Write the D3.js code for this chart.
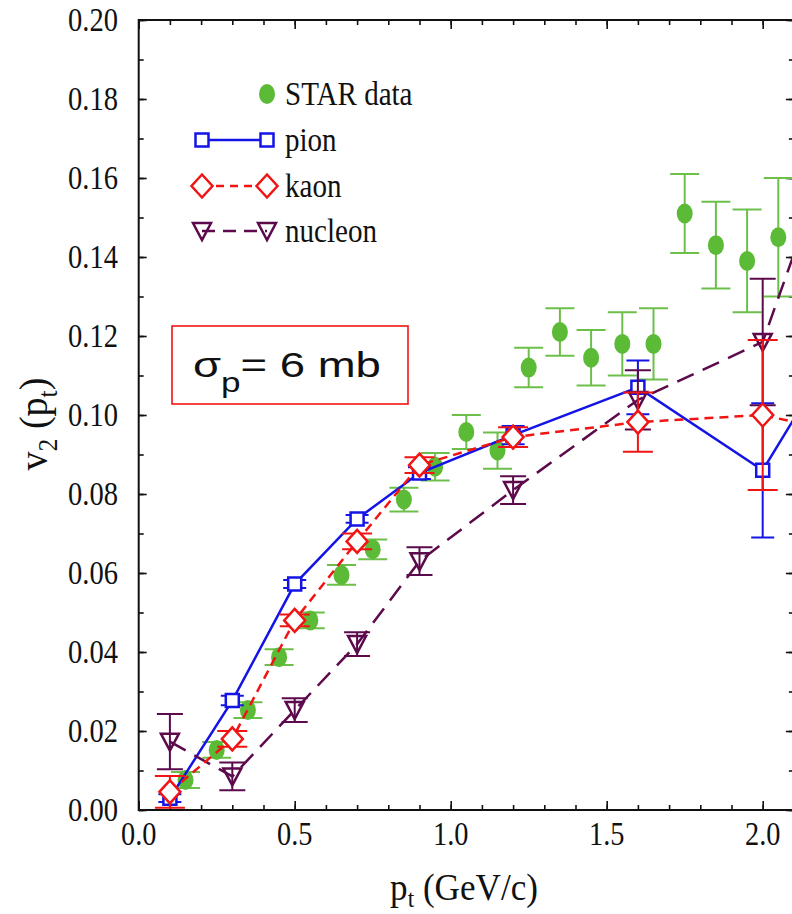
<!DOCTYPE html>
<html>
<head>
<meta charset="utf-8">
<script src="https://cdn.jsdelivr.net/npm/d3@7/dist/d3.min.js"></script>
<style>
body { margin: 0; background: #ffffff; }
</style>
</head>
<body>
<svg id="chart" width="792" height="914"></svg>
<script>

// STAR data
var aPtStar = [0.15, 0.25, 0.35, 0.45, 0.55, 0.65, 0.75, 0.85, 0.95, 1.05, 1.15, 1.25, 1.35, 1.45, 1.55, 1.65, 1.75, 1.85, 1.95, 2.05];
var aV2Star = [0.0076, 0.0152, 0.0253, 0.0387, 0.048, 0.0595, 0.066, 0.0786, 0.0869, 0.0957, 0.091, 0.112, 0.121, 0.1145, 0.118, 0.118, 0.151, 0.143, 0.139, 0.145];
var aErrStar = [0.002, 0.002, 0.002, 0.002, 0.002, 0.0025, 0.0025, 0.003, 0.0035, 0.0043, 0.0046, 0.005, 0.006, 0.007, 0.008, 0.009, 0.010, 0.011, 0.013, 0.015];

// transport model (last point lies past the right edge of the frame)
var aPtModel = [0.1, 0.3, 0.5, 0.7, 0.9, 1.2, 1.6, 2.0, 2.2];
var aV2Pion = [0.003, 0.0277, 0.0572, 0.0737, 0.0853, 0.0949, 0.107, 0.086, 0.112];
var aErrPion = [0.001, 0.0012, 0.001, 0.001, 0.0015, 0.0023, 0.0068, 0.017, null];
var aV2Kaon = [0.0046, 0.018, 0.048, 0.068, 0.0873, 0.0944, 0.0982, 0.100, 0.0965];
var aErrKaon = [0.004, 0.002, 0.0015, 0.002, 0.002, 0.0025, 0.0075, 0.019, null];
var aV2Nucleon = [0.0173, 0.0085, 0.0253, 0.042, 0.063, 0.081, 0.1038, 0.1185, 0.163];
var aErrNucleon = [0.007, 0.0035, 0.003, 0.003, 0.0035, 0.0035, 0.0075, 0.016, null];

// axes
var aTicksY = [0.00, 0.02, 0.04, 0.06, 0.08, 0.10, 0.12, 0.14, 0.16, 0.18, 0.20];
var aTicksX = [0.0, 0.5, 1.0, 1.5, 2.0];


var sSvg = d3.select('#chart');

var nLeft = 138.7;
var nTop = 20;
var nBottom = 810;
var nPxPerGeV = 312;
var fMaxX = 2.1;
var nRight = nLeft + fMaxX * nPxPerGeV;

var scaleX = d3.scaleLinear()
	.domain([0, fMaxX])
	.range([nLeft, nRight]);

var scaleY = d3.scaleLinear()
	.domain([0, 0.2])
	.range([nBottom, nTop]);

const strSerif = '"Liberation Serif", "Times New Roman", serif';
const strSans = '"Liberation Sans", Arial, sans-serif';

sSvg.append('rect')
	.attr('width', 792).attr('height', 914)
	.attr('fill', '#ffffff');

sSvg.append('defs').append('clipPath')
	.attr('id', 'plotclip')
	.append('rect')
		.attr('x', nLeft).attr('y', nTop)
		.attr('width', nRight - nLeft).attr('height', nBottom - nTop);

// ticks, all pointing inward
var aMinorX = d3.range(0, 22).map(function(i) { return i / 10; }).filter(function(v) { return v <= fMaxX + 1e-9; });
var aMinorY = d3.range(0, 21).map(function(i) { return i / 100; });

function TickAxis(axis, strTransform, aValues, nSize)
{
	var sAxis = sSvg.append('g')
		.attr('transform', strTransform)
		.call(axis.tickValues(aValues).tickSize(nSize).tickFormat(''));
	sAxis.select('.domain').remove();
	sAxis.selectAll('line').attr('stroke', '#111').attr('stroke-width', 1.6);
}

TickAxis(d3.axisBottom(scaleX), 'translate(0,' + nBottom + ')', aMinorX, -5);
TickAxis(d3.axisBottom(scaleX), 'translate(0,' + nBottom + ')', aTicksX, -9);
TickAxis(d3.axisTop(scaleX), 'translate(0,' + nTop + ')', aMinorX, -5);
TickAxis(d3.axisTop(scaleX), 'translate(0,' + nTop + ')', aTicksX, -9);
TickAxis(d3.axisLeft(scaleY), 'translate(' + nLeft + ',0)', aMinorY, -5);
TickAxis(d3.axisLeft(scaleY), 'translate(' + nLeft + ',0)', aTicksY, -8);
TickAxis(d3.axisRight(scaleY), 'translate(' + nRight + ',0)', aMinorY, -5);
TickAxis(d3.axisRight(scaleY), 'translate(' + nRight + ',0)', aTicksY, -8);

sSvg.append('rect')
	.attr('x', nLeft).attr('y', nTop)
	.attr('width', nRight - nLeft).attr('height', nBottom - nTop)
	.attr('fill', 'none')
	.attr('stroke', '#111')
	.attr('stroke-width', 2);

// tick labels
sSvg.selectAll('.label-y')
	.data(aTicksY)
	.enter()
	.append('text')
		.attr('class', 'label-y')
		.attr('transform', function(v) { return 'translate(118,' + (scaleY(v) + 11) + ') scale(0.84,1)'; })
		.attr('text-anchor', 'end')
		.style('font-family', strSerif)
		.style('font-size', '34px')
		.attr('fill', '#111')
		.text(function(v) { return d3.format('.2f')(v); });

sSvg.selectAll('.label-x')
	.data(aTicksX)
	.enter()
	.append('text')
		.attr('class', 'label-x')
		.attr('transform', function(v) { return 'translate(' + scaleX(v) + ',845) scale(0.86,1)'; })
		.attr('text-anchor', 'middle')
		.style('font-family', strSerif)
		.style('font-size', '33px')
		.attr('fill', '#111')
		.text(function(v) { return d3.format('.1f')(v); });

// axis titles
var sTitleX = sSvg.append('text')
	.attr('transform', 'translate(464,900) scale(0.9,1)')
	.attr('text-anchor', 'middle')
	.style('font-family', strSerif)
	.style('font-size', '39px')
	.attr('fill', '#111');
sTitleX.append('tspan').text('p');
sTitleX.append('tspan').attr('dy', 7).style('font-size', '26px').text('t');
sTitleX.append('tspan').attr('dy', -7).text(' (GeV/c)');

var sTitleY = sSvg.append('text')
	.attr('transform', 'translate(47,424) rotate(-90) scale(0.95,1)')
	.attr('text-anchor', 'middle')
	.style('font-family', strSerif)
	.style('font-size', '40px')
	.attr('fill', '#111');
sTitleY.append('tspan').text('v');
sTitleY.append('tspan').attr('dy', 10).style('font-size', '27px').text('2');
sTitleY.append('tspan').attr('dy', -10).text(' (p');
sTitleY.append('tspan').attr('dy', 10).style('font-size', '27px').text('t');
sTitleY.append('tspan').attr('dy', -10).text(')');

// marker shapes
function PathSquare(x, y)
{
	var h = 6.5;
	return 'M' + (x - h) + ',' + (y - h) + 'h' + (2 * h) + 'v' + (2 * h) + 'h' + (-2 * h) + 'Z';
}
function PathDiamond(x, y)
{
	var w = 10.5, h = 11.5;
	return 'M' + x + ',' + (y - h) + 'L' + (x + w) + ',' + y + 'L' + x + ',' + (y + h) + 'L' + (x - w) + ',' + y + 'Z';
}
function PathTriangle(x, y)
{
	var w = 9;
	return 'M' + (x - w) + ',' + (y - 8) + 'L' + (x + w) + ',' + (y - 8) + 'L' + x + ',' + (y + 9) + 'Z';
}

var sPlot = sSvg.append('g').attr('clip-path', 'url(#plotclip)');

function DrawErrors(aPt, aV2, aErr, strColor, nCap)
{
	var aRows = aPt.map(function(x, i) { return {x: x, v: aV2[i], e: aErr[i]}; })
		.filter(function(row) { return row.e != null; });
	var sBars = sPlot.append('g')
		.attr('stroke', strColor)
		.attr('stroke-width', 2)
		.attr('fill', 'none');
	sBars.selectAll('path')
		.data(aRows)
		.enter()
		.append('path')
			.attr('d', function(row)
				{
					var x = scaleX(row.x);
					var y1 = scaleY(row.v + row.e);
					var y2 = scaleY(row.v - row.e);
					return 'M' + x + ',' + y1 + 'V' + y2 +
						'M' + (x - nCap / 2) + ',' + y1 + 'h' + nCap +
						'M' + (x - nCap / 2) + ',' + y2 + 'h' + nCap;
				});
}

function DrawModel(aV2, aErr, strColor, strDash, fnShape, strFill, nCap)
{
	DrawErrors(aPtModel, aV2, aErr, strColor, nCap);
	var aRows = aPtModel.map(function(x, i) { return {x: x, v: aV2[i]}; });
	var line = d3.line()
		.x(function(row) { return scaleX(row.x); })
		.y(function(row) { return scaleY(row.v); });
	sPlot.append('path')
		.datum(aRows)
		.attr('d', line)
		.attr('fill', 'none')
		.attr('stroke', strColor)
		.attr('stroke-width', 2.5)
		.attr('stroke-dasharray', strDash);
	sPlot.append('g')
		.selectAll('path')
		.data(aRows)
		.enter()
		.append('path')
			.attr('d', function(row) { return fnShape(scaleX(row.x), scaleY(row.v)); })
			.attr('fill', strFill)
			.attr('stroke', strColor)
			.attr('stroke-width', 2.5);
}

// STAR
DrawErrors(aPtStar, aV2Star, aErrStar, '#6cc04a', 29);
sPlot.append('g')
	.selectAll('ellipse')
	.data(aPtStar.map(function(x, i) { return {x: x, v: aV2Star[i]}; }))
	.enter()
	.append('ellipse')
		.attr('cx', function(row) { return scaleX(row.x); })
		.attr('cy', function(row) { return scaleY(row.v); })
		.attr('rx', 8)
		.attr('ry', 10)
		.attr('fill', '#5bba36');

DrawModel(aV2Pion, aErrPion, '#1414e6', null, PathSquare, '#ffffff', 23);
DrawModel(aV2Nucleon, aErrNucleon, '#5c0a4c', '18,10', PathTriangle, 'none', 26);
DrawModel(aV2Kaon, aErrKaon, '#f01414', '9,6', PathDiamond, '#ffffff', 30);

// legend
var sLegend = sSvg.append('g');
var aLegendY = [94, 140, 186, 231];

sLegend.append('ellipse')
	.attr('cx', 267).attr('cy', aLegendY[0])
	.attr('rx', 8).attr('ry', 10)
	.attr('fill', '#5bba36');

function LegendModel(nY, strColor, strDash, fnShape, strFill)
{
	sLegend.append('line')
		.attr('x1', 202).attr('x2', 267)
		.attr('y1', nY).attr('y2', nY)
		.attr('stroke', strColor)
		.attr('stroke-width', 2.4)
		.attr('stroke-dasharray', strDash);
	[202, 267].forEach(function(x)
		{
			sLegend.append('path')
				.attr('d', fnShape(x, nY))
				.attr('fill', strFill)
				.attr('stroke', strColor)
				.attr('stroke-width', 2.5);
		});
}
LegendModel(aLegendY[1], '#1414e6', null, PathSquare, '#ffffff');
LegendModel(aLegendY[2], '#f01414', '8,6', PathDiamond, '#ffffff');
LegendModel(aLegendY[3], '#5c0a4c', '13,8', PathTriangle, 'none');

['STAR data', 'pion', 'kaon', 'nucleon'].forEach(function(strName, i)
	{
		sLegend.append('text')
			.attr('transform', 'translate(285,' + (aLegendY[i] + 11) + ') scale(0.88,1)')
			.style('font-family', strSerif)
			.style('font-size', '33px')
			.attr('fill', '#111')
			.text(strName);
	});

// cross-section box
sSvg.append('rect')
	.attr('x', 172).attr('y', 326)
	.attr('width', 236).attr('height', 78)
	.attr('fill', '#ffffff')
	.attr('stroke', '#f01414')
	.attr('stroke-width', 1.6);

var sSigma = sSvg.append('text')
	.attr('transform', 'translate(193,377) scale(1.3,1)')
	.style('font-family', strSans)
	.style('font-size', '35px')
	.attr('fill', '#111');
sSigma.append('tspan').text('σ');
sSigma.append('tspan').attr('dy', 15).style('font-size', '27px').text('p');
sSigma.append('tspan').attr('dy', -15).text('= 6 mb');

</script>
</body>
</html>
